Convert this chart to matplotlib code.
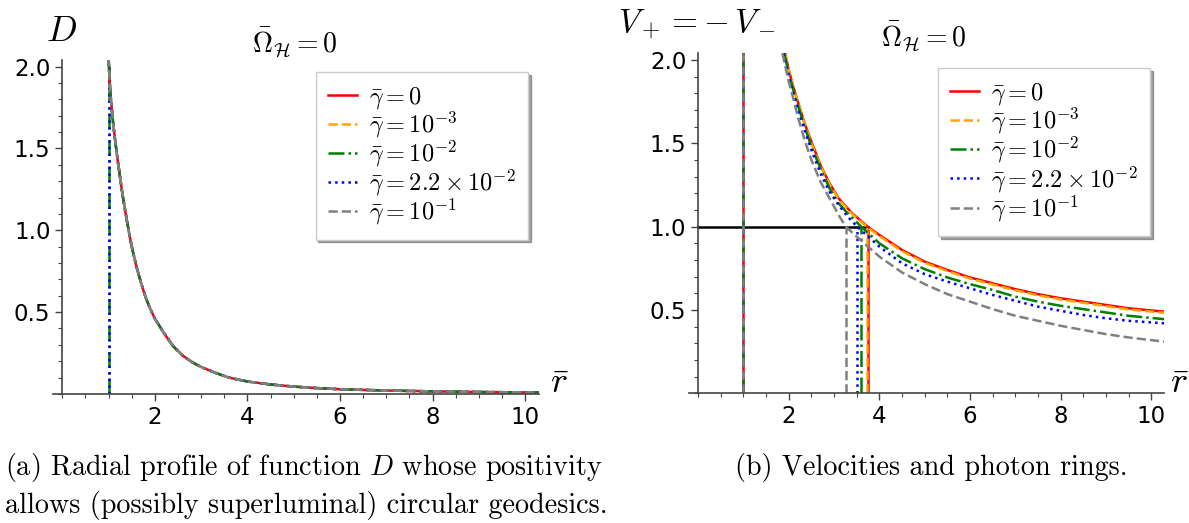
import matplotlib.pyplot as plt
from matplotlib.ticker import MultipleLocator, FormatStrFormatter

plt.rcParams['mathtext.fontset'] = 'cm'
plt.rcParams['font.family'] = ['DejaVu Sans']

# legend labels and styles of the five gamma values
labels = [r'$\bar{\gamma}=0$', r'$\bar{\gamma}=10^{-3}$', r'$\bar{\gamma}=10^{-2}$',
          r'$\bar{\gamma}=2.2\times10^{-2}$', r'$\bar{\gamma}=10^{-1}$']
colors = ['red', 'orange', 'green', 'blue', 'gray']
styles = ['-', '--', '-.', ':', '--']

# panel (a): D(r), curves for all gamma lie on top of each other
r_D = [1.0, 1.02, 1.05, 1.1, 1.15, 1.2, 1.25, 1.3, 1.4, 1.5, 1.6, 1.7, 1.8, 1.9, 2.0,
       2.2, 2.4, 2.6, 2.8, 3.0, 3.3, 3.6, 4.0, 4.5, 5.0, 5.5, 6.0, 7.0, 8.0, 9.0, 10.3]
D_vals = [2.06, 1.92, 1.80, 1.65, 1.53, 1.42, 1.32, 1.22, 1.05, 0.90, 0.78, 0.68, 0.59,
          0.52, 0.46, 0.37, 0.29, 0.235, 0.195, 0.165, 0.13, 0.10, 0.076, 0.058, 0.045,
          0.036, 0.029, 0.021, 0.016, 0.012, 0.009]

# panel (b): V+ = -V- for each gamma
r_V = [
    [1.92, 2.0, 2.1, 2.2, 2.35, 2.5, 2.7, 2.9, 3.1, 3.4, 3.74, 4.0, 4.5, 5.0, 5.5, 6.0,
     6.5, 7.0, 7.5, 8.0, 8.5, 9.0, 9.5, 10.28],
    [1.92, 2.0, 2.1, 2.2, 2.35, 2.5, 2.7, 2.9, 3.1, 3.4, 3.72, 4.0, 4.5, 5.0, 5.5, 6.0,
     6.5, 7.0, 7.5, 8.0, 8.5, 9.0, 9.5, 10.28],
    [1.90, 2.0, 2.1, 2.2, 2.35, 2.5, 2.7, 2.9, 3.1, 3.3, 3.60, 4.0, 4.5, 5.0, 5.5, 6.0,
     6.5, 7.0, 7.5, 8.0, 8.5, 9.0, 9.5, 10.28],
    [1.89, 2.0, 2.1, 2.2, 2.35, 2.5, 2.7, 2.9, 3.1, 3.3, 3.51, 4.0, 4.5, 5.0, 5.5, 6.0,
     6.5, 7.0, 7.5, 8.0, 8.5, 9.0, 9.5, 10.28],
    [1.86, 2.0, 2.1, 2.2, 2.35, 2.5, 2.7, 2.9, 3.1, 3.26, 3.5, 4.0, 4.5, 5.0, 5.5, 6.0,
     6.5, 7.0, 7.5, 8.0, 8.5, 9.0, 9.5, 10.28],
]
V_vals = [
    [2.04, 1.94, 1.84, 1.75, 1.62, 1.51, 1.37, 1.26, 1.17, 1.08, 1.0, 0.95, 0.86, 0.79,
     0.74, 0.695, 0.66, 0.625, 0.595, 0.57, 0.55, 0.53, 0.51, 0.49],
    [2.04, 1.94, 1.84, 1.75, 1.62, 1.50, 1.365, 1.255, 1.165, 1.075, 1.0, 0.943, 0.853,
     0.783, 0.733, 0.688, 0.653, 0.618, 0.588, 0.563, 0.543, 0.523, 0.503, 0.483],
    [2.04, 1.92, 1.82, 1.73, 1.60, 1.48, 1.35, 1.23, 1.14, 1.08, 1.0, 0.90, 0.81, 0.745,
     0.695, 0.655, 0.62, 0.58, 0.55, 0.525, 0.505, 0.485, 0.465, 0.445],
    [2.04, 1.90, 1.80, 1.71, 1.58, 1.46, 1.32, 1.21, 1.13, 1.06, 1.0, 0.88, 0.78, 0.715,
     0.67, 0.63, 0.59, 0.555, 0.52, 0.495, 0.47, 0.45, 0.435, 0.42],
    [2.04, 1.87, 1.77, 1.66, 1.52, 1.40, 1.27, 1.17, 1.07, 1.0, 0.94, 0.82, 0.725, 0.655,
     0.595, 0.55, 0.505, 0.465, 0.435, 0.405, 0.38, 0.355, 0.335, 0.31],
]
# photon ring radii (V = 1) and horizon
r_ring = [3.74, 3.72, 3.60, 3.51, 3.26]
r_h = 1.0

W, H = 1189, 523
fig = plt.figure(figsize=(W / 100, H / 100), dpi=100)
ax1 = fig.add_axes([0.0446, 0.2467, 0.4088, 0.6386])
ax2 = fig.add_axes([0.5795, 0.2480, 0.3995, 0.6500])


def style_axes(ax, xmax):
    ax.set_xlim(-0.2, xmax)
    ax.set_ylim(0, 2.04)
    for s in ['top', 'right']:
        ax.spines[s].set_visible(False)
    ax.spines['left'].set_position(('data', 0))
    ax.spines['bottom'].set_position(('data', 0))
    for s in ['left', 'bottom']:
        ax.spines[s].set_color('#444444')
        ax.spines[s].set_linewidth(1.2)
    ax.xaxis.set_minor_locator(MultipleLocator(0.5))
    ax.yaxis.set_minor_locator(MultipleLocator(0.1))
    ax.set_xticks([2, 4, 6, 8, 10])
    ax.set_yticks([0.5, 1.0, 1.5, 2.0])
    ax.yaxis.set_major_formatter(FormatStrFormatter('%.1f'))
    ax.tick_params(which='major', length=5, width=1, color='#444444', labelsize=16.5)
    ax.tick_params(which='minor', length=3, width=0.8, color='#444444')


style_axes(ax1, 10.3)
style_axes(ax2, 10.28)

leg_kw = dict(loc='upper right', borderaxespad=0, fontsize=17.5, shadow=True,
              fancybox=False, framealpha=1, edgecolor='#cccccc', handlelength=1.2,
              labelspacing=-0.05, borderpad=0.5, handletextpad=0.5)

# panel (a)
for i in [2, 3]:
    ax1.plot([r_h, r_h], [0, 2.0], color=colors[i], ls=styles[i], lw=1.8)
for i in range(5):
    ax1.plot(r_D, D_vals, color=colors[i], ls=styles[i], lw=1.8, label=labels[i])
ax1.legend(bbox_to_anchor=(0.977, 0.964), **leg_kw)

# panel (b)
ax2.plot([0, r_ring[0]], [1, 1], color='black', lw=1.8)
for i in range(5):
    ax2.plot([r_h, r_h], [0, 2.04], color=colors[i], ls=styles[i], lw=1.8)
    ax2.plot([r_ring[i], r_ring[i]], [0, 1], color=colors[i], ls=styles[i], lw=1.8)
for i in range(5):
    ax2.plot(r_V[i], V_vals[i], color=colors[i], ls=styles[i], lw=1.8, label=labels[i])
ax2.legend(bbox_to_anchor=(0.971, 0.956), **leg_kw)

# axis labels and titles
fig.text(62 / W, 1 - 31 / H, r'$D$', fontsize=26, ha='center', va='center')
fig.text(697 / W, 1 - 24 / H, r'$V_+=-\,V_-$', fontsize=24, ha='center', va='center')
fig.text(295 / W, 1 - 43 / H, r'$\bar{\Omega}_{\mathcal{H}}=0$', fontsize=20,
         ha='center', va='center')
fig.text(924 / W, 1 - 37 / H, r'$\bar{\Omega}_{\mathcal{H}}=0$', fontsize=20,
         ha='center', va='center')
fig.text(560 / W, 1 - 383 / H, r'$\bar{r}$', fontsize=26, ha='center', va='center')
fig.text(1180 / W, 1 - 383 / H, r'$\bar{r}$', fontsize=26, ha='center', va='center')

# captions
cap = dict(fontsize=20.3, family=['cmr10', 'DejaVu Serif'], va='center', ha='left')
fig.text(5 / W, 1 - 467 / H, r'(a) Radial profile of function $D$ whose positivity', **cap)
fig.text(5 / W, 1 - 505 / H, 'allows (possibly superluminal) circular geodesics.', **cap)
fig.text(735 / W, 1 - 467 / H, '(b) Velocities and photon rings.', **cap)

fig.savefig('out.png', dpi=100)
